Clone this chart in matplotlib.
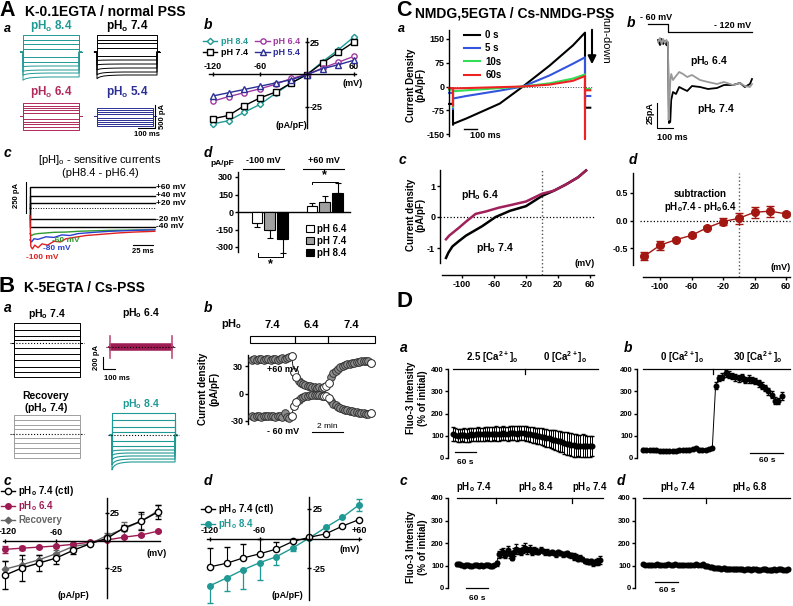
import numpy as np
import matplotlib
matplotlib.use("Agg")
import matplotlib.pyplot as plt
from matplotlib.patches import Rectangle, Patch, FancyArrowPatch
from matplotlib.lines import Line2D

plt.rcParams.update({
    'font.family': ['Liberation Sans', 'DejaVu Sans'],
    'font.weight': 'bold',
    'mathtext.default': 'regular',
    'axes.unicode_minus': False,
    'axes.linewidth': 1.0,
    'xtick.major.width': 1.0, 'ytick.major.width': 1.0,
    'xtick.major.size': 2.5, 'ytick.major.size': 2.5,
    'xtick.labelsize': 6, 'ytick.labelsize': 6,
    'xtick.major.pad': 1, 'ytick.major.pad': 1,
})

TEAL = '#1f9994'; ROSE = '#b02a5c'; NAVY = '#2b2f95'; PURPLE = '#a03aa0'
WINE = '#9c1b52'; DGREY = '#666666'; LGREY = '#a0a0a0'; DRED = '#a31712'

# ================= DATA =================
# A a : step levels (pA) of current traces
AA_84 = [370, 260, 174, 65, -109, -217, -304, -391, -457, -543]
AA_84_DECAY = [0, 0, 0, 0, 0, 0, -15, -30, -50, -70]
AA_74 = [370, 260, 195, 87, -87, -174, -261, -348, -435, -500]
AA_74_DECAY = [0, 0, 0, 0, 0, -10, -20, -40, -60, -80]
AA_64 = [282, 228, 174, 120, 65, -65, -120, -174, -239, -304]
AA_54 = [174, 130, 87, 43, -43, -87, -130, -174, -217]
DECAY_T = [0, 8, 20, 40, 70, 110, 160]
DECAY_SHAPE = [1.0, 0.72, 0.48, 0.28, 0.14, 0.05, 0.0]

# A b : I-V
V_IV = [-120, -100, -80, -60, -40, -20, 0, 20, 40, 60]
AB_PH84 = [-38, -35.5, -29, -23, -14.5, -6.5, 0, 10, 19, 29]
AB_PH74 = [-34, -31.5, -24, -18, -13.5, -6.5, 0, 9, 17, 25]
AB_PH64 = [-20.5, -17, -14, -11, -7.5, -3, 0, 5, 9.5, 14]
AB_PH54 = [-16.5, -14, -11.5, -9, -6.5, -4, 0, 4.5, 7.5, 11]

# A c : pH-sensitive currents
AC_LEVELS = [164, 94, 39, -86, -148]
AC_LABELS = ['+60 mV', '+40 mV', '+20 mV', '-20 mV', '-40 mV']
AC_END = 156
AC_G_T = [0, 2, 5, 10, 20, 30, 45, 60, 80, 100, 130, 156]
AC_G = [-200, -215, -205, -200, -195, -190, -188, -182, -178, -175, -172, -170]
AC_B_T = [0, 2, 5, 10, 20, 30, 40, 50, 60, 80, 100, 130, 156]
AC_B = [-250, -265, -240, -245, -225, -230, -210, -215, -200, -190, -182, -175, -170]
AC_R_T = [0, 1, 3, 6, 10, 15, 22, 30, 38, 45, 55, 70, 90, 110, 130, 156]
AC_R = [-60, -300, -320, -290, -310, -280, -290, -260, -265, -240, -230, -215, -205, -195, -188, -182]

# A d : bars
AD_POS = [0, 1, 2, 4.3, 5.3, 6.3]
AD_VAL = [-90, -150, -235, 50, 88, 162]
AD_ERR = [38, 75, 115, 25, 45, 85]
AD_FACE = ['white', '#a0a0a0', 'black', 'white', '#a0a0a0', 'black']
AD_LEG = ['pH 6.4', 'pH 7.4', 'pH 8.4']

# B a : step levels (pA)
BA_74 = [308, 200, 108, 46, -77, -169, -262, -370, -446, -523]
BA_64 = [45, 37, 29, 21, 13, 5, -5, -13, -21, -29, -37, -45]
BA_64_SPIKE = 170
BA_REC = [292, 215, 138, 77, -62, -138, -215, -292, -370]
BA_84 = [338, 231, 123, 46, -92, -169, -231, -277, -323, -370, -415]
BA_84_DECAY = [0, 0, 0, 0, 0, 0, -20, -40, -60, -90, -120]

# B b : time course (pA/pF), sampled every 0.15 min
BB_DT = 0.15
BB_P60 = [37, 38, 37, 38, 38, 37, 38, 38, 37, 38, 38, 37, 38, 39, 38, 39, 40, 41,
          23, 18, 14, 12, 10, 9, 8, 8, 7, 7, 6, 7, 6, 7, 8,
          12, 18, 22, 25, 27, 29, 30, 31, 32, 32, 33, 33, 34, 34, 35, 35, 36, 36, 33]
BB_M60 = [-25, -26, -25, -25, -26, -25, -25, -24, -25, -25, -26, -25, -24, -26, -21, -26, -27, -25,
          -14, -9, -7, -5, -4, -3, -3, -2, -2, -2, -2, -2, -3, -3, -3,
          -5, -8, -11, -13, -15, -16, -17, -18, -18, -19, -19, -20, -20, -21, -21, -21, -22, -22, -21]
BB_WHITE = [17, 18, 19, 31, 32, 33, 51]
BB_SEG_EDGES = [-0.13, 2.77, 4.9, 7.94]
BB_SEG_LABELS = ['7.4', '6.4', '7.4']

# B c
BC_CTL = [-31.5, -25, -20.5, -16, -9, -3, 2, 11.5, 17.5, 26]
BC_CTL_ERR = [13, 12, 7, 5, 3, 1, 1, 3, 8, 6]
BC_64 = [-8, -7, -6, -5, -3.5, -1.5, 0.5, 3, 5, 8.5]
BC_64_ERR = [3, 2, 1, 1, 1, 1, 1, 1, 1, 1]
BC_REC = [-26, -22, -17.5, -12, -5.5, -3, 4.5, 10.5, 17.5, 27]
BC_REC_ERR = [7, 5, 4, 3, 2, 1, 2, 6, 7, 5]

# B d
BD_CTL = [-24, -21, -16.5, -13, -9, -2.5, 1, 4, 10.5, 16]
BD_CTL_ERR_UP = [16, 14, 11.5, 13, 6, 1.5, 0, 0, 0, 0]
BD_84 = [-40, -33.5, -26.5, -20.5, -15.5, -8, 0.5, 9.5, 18, 28.5]
BD_84_ERR_DN = [15, 11, 16, 15, 7, 3, 0, 0, 0, 5]
BD_84_ERR_UP = [0, 0, 0, 0, 0, 0, 0, 0, 0, 5]

# C a : ramp currents (pA/pF)
CA_T = [0, 101, 354, 530, 732, 909, 1000]
CA_TRACES = {
    '0 s': [-118, -101, -54, 0, 66, 130, 170],
    '5 s': [-38, -30, -13, 0, 35, 72, 92],
    '10s': [-15, -12, -5, 0, 10, 25, 38],
    '60s': [-6, -5, -2, 0, 6, 18, 33],
}
CA_COLORS = ['black', '#3355dd', '#33dd55', '#ee2222']
CA_PRE = [-55, -20, -10, -5]
CA_START_SPIKE = [-120, -70, -65, -60]
CA_END_SPIKE = [-67, -40, -15, -165]
CA_POST = [-67, -30, -8, -12]

# C b
CB_PROT_T = [-125, 0, 0, 525]
CB_PROT_V = [-60, -60, -120, -120]
CB_T74 = [-62, -50, -40, -30, -20, -10, -3, 0, 6, 14, 20, 31, 50, 70, 94, 120, 150, 200, 250, 306, 350, 406, 450, 480, 512, 525]
CB_I74 = [2, -3, 3, -2, 1, -3, 0, -8, -81, -80, -58, -50, -52, -45, -47, -49, -44, -45, -47, -46, -43, -43, -41, -45, -42, -37]
CB_T64 = [-62, -50, -40, -30, -20, -10, -3, 0, 4, 9, 14, 20, 31, 50, 70, 94, 120, 150, 200, 250, 306, 350, 406, 450, 480, 512, 525]
CB_I64 = [0, 4, -2, 3, -1, 2, 0, -6, -78, -60, -40, -32, -38, -34, -30, -32, -35, -33, -38, -40, -42, -40, -43, -41, -44, -45, -42]

# C c
CC_64_V = [-120, -116, -104, -95, -83, -70, -54, -40, -20, 0, 15, 30, 45, 55]
CC_64 = [-0.72, -0.6, -0.35, -0.15, 0.1, 0.18, 0.3, 0.38, 0.5, 0.75, 0.85, 1.05, 1.28, 1.5]
CC_74_V = [-120, -117, -112, -104, -95, -83, -75, -58, -40, -20, 0, 15, 30, 45, 55]
CC_74 = [-1.32, -1.15, -0.95, -0.78, -0.6, -0.42, -0.3, 0.0, 0.2, 0.35, 0.68, 0.85, 1.05, 1.28, 1.5]

# C d
CD_SUB = [-0.65, -0.45, -0.35, -0.27, -0.13, -0.02, 0.04, 0.15, 0.17, 0.12]
CD_ERR = [0.07, 0.08, 0.03, 0.03, 0.03, 0.06, 0.1, 0.1, 0.1, 0.03]

# D : Fluo-3 intensity (% of initial)
DA_DT = 6.5
DA = [108, 105, 100, 102, 104, 103, 100, 105, 106, 104, 106, 108, 107, 106, 108, 110, 108, 107, 109, 110,
      108, 110, 112, 110, 108, 111, 113, 112, 110, 112, 114, 112, 110, 108, 106, 104, 102, 100, 98, 96,
      93, 90, 88, 85, 82, 80, 78, 75, 72, 68, 65, 62, 60, 58, 56, 55, 54, 55, 54, 53, 52, 53]
DA_ERR = [30, 28, 30, 29, 28, 30, 29, 31, 30, 29, 30, 31, 30, 29, 30, 31, 30, 31, 30, 32,
          31, 30, 32, 31, 30, 32, 31, 33, 32, 31, 32, 33, 32, 33, 34, 35, 34, 36, 37, 38,
          38, 40, 40, 42, 43, 44, 45, 46, 47, 48, 50, 50, 52, 52, 50, 48, 50, 52, 50, 48, 46, 45]
DA_SWITCH = 206
DA_BAR = [0, 414]
DB_DT = 6
DB = [38, 37, 36, 35, 34, 33, 33, 32, 33, 32, 33, 34, 35, 36, 38, 40, 45, 38, 35, 36, 40, 45,
      325, 358, 365, 380, 375, 368, 362, 358, 362, 352, 355, 350, 345, 335, 325, 315, 300, 285, 258, 255, 280]
DB_ERR = [5] * 22 + [15, 14, 15, 14, 16, 15, 14, 16, 15, 14, 16, 15, 14, 15, 16, 15, 16, 15, 16, 14, 18]
DB_SWITCH = 127
DB_BAR = [0, 267]
DC_DT = 6
DC = [105, 108, 103, 100, 104, 102, 98, 100, 103, 101, 99, 102, 100, 104, 103, 100, 97, 102,
      110, 150, 155, 160, 145, 168, 150, 135, 160, 175, 165, 158, 172, 180, 168, 175, 160, 170,
      165, 160, 170, 165, 158, 162, 155, 160, 155, 150, 158, 155, 150, 152, 155, 148,
      145, 140, 138, 130, 135, 128, 120, 118, 115, 118, 112, 115, 118, 125]
DC_ERR = [6] * 18 + [10, 15, 18, 20, 12, 18, 15, 10, 18, 22, 15, 12, 18, 20, 15, 15, 12, 14,
                     12, 10, 12, 10, 10, 12, 10, 10, 9, 10, 10, 9, 10, 10, 9, 8,
                     12, 14, 12, 12, 10, 10, 10, 10, 10, 10, 12, 12, 14, 18]
DC_SWITCH = [106, 313]
DC_BAR = [0, 398]
DD_DT = 6
DD = [105, 104, 103, 104, 102, 103, 105, 104, 102, 103, 104, 105, 103, 104, 106, 104, 102, 103,
      104, 103, 102, 103, 104, 105, 103, 104, 105,
      100, 97, 95, 92, 90, 88, 87, 86, 88, 85, 84, 86, 85, 83, 84, 85, 83, 82, 84, 83, 82, 84,
      83, 81, 82, 83, 84, 82, 80, 81, 83, 82, 84, 83, 82, 81, 83]
DD_ERR = [4] * 27 + [8] * 37
DD_SWITCH = 164
DD_BAR = [0, 384]

# ================= FIGURE =================
W, H = 793, 606
fig = plt.figure(figsize=(W / 100, H / 100), dpi=100)


def fx(x):
    return x / W


def fy(y):
    return 1 - y / H


def T(x, y, s, size=7, ha='center', va='center', **kw):
    return fig.text(fx(x), fy(y), s, size=size, ha=ha, va=va, **kw)


def make_ax(box, xcal, ycal):
    l, t, r, b = box
    ax = fig.add_axes([fx(l), fy(b), (r - l) / W, (b - t) / H])
    sx = (xcal[3] - xcal[1]) / (xcal[2] - xcal[0])
    sy = (ycal[3] - ycal[1]) / (ycal[2] - ycal[0])
    ax.set_xlim(xcal[0] + (l - xcal[1]) / sx, xcal[0] + (r - xcal[1]) / sx)
    ax.set_ylim(ycal[0] + (b - ycal[1]) / sy, ycal[0] + (t - ycal[1]) / sy)
    ax.patch.set_visible(False)
    for s in ax.spines.values():
        s.set_visible(False)
    ax.set_xticks([])
    ax.set_yticks([])
    return ax


def iv_axes(ax, xb, yb, xt, yt, xtl=None, ytl=None):
    for side in ('top', 'right'):
        ax.spines[side].set_visible(True)
        ax.spines[side].set_position(('data', 0))
    ax.spines['top'].set_bounds(*xb)
    ax.spines['right'].set_bounds(*yb)
    ax.xaxis.tick_top()
    ax.yaxis.tick_right()
    ax.set_xticks(xt)
    ax.set_yticks(yt)
    if xtl:
        ax.set_xticklabels(xtl)
    if ytl:
        ax.set_yticklabels(ytl)
    ax.tick_params(length=2.5, direction='inout', labelsize=6.5, pad=1)


def steps(ax, levels, Tend, color, decay=None, lw=0.7, pre=15, post=15):
    for i, L in enumerate(levels):
        d = decay[i] if decay else 0
        t = [-pre, 0] + DECAY_T + [Tend, Tend, Tend + post]
        v = [0, 0] + [L + d * s for s in DECAY_SHAPE] + [L, 0, 0]
        ax.plot(t, v, color=color, lw=lw, clip_on=False)


def italic(x, y, s, size=10):
    T(x, y, s, size=size, style='italic', ha='left')


# ---------- Section titles
T(-1, 10, 'A', size=15.5, ha='left')
T(25, 12, 'K-0.1EGTA / normal PSS', size=10, ha='left')
T(-1, 287, 'B', size=16, ha='left')
T(24, 288, 'K-5EGTA / Cs-PSS', size=10, ha='left')
T(396, 10, 'C', size=15.5, ha='left')
T(415, 13, 'NMDG,5EGTA / Cs-NMDG-PSS', size=10, ha='left')
T(397, 302, 'D', size=16, ha='left')

# ---------- A a
italic(4, 29, 'a', 9)
ax = make_ax((15, 30, 90, 85), (0, 23, 100, 40), (0, 52, 500, 29))
steps(ax, AA_84, 330, TEAL, AA_84_DECAY)
ax = make_ax((90, 30, 165, 85), (0, 97, 100, 114), (0, 52, 500, 29))
steps(ax, AA_74, 353, 'black', AA_74_DECAY)
ax = make_ax((15, 98, 90, 135), (0, 23, 100, 40), (0, 116, 500, 93))
steps(ax, AA_64, 330, ROSE)
ax = make_ax((90, 98, 170, 140), (0, 97, 100, 114), (0, 116, 500, 93))
steps(ax, AA_54, 330, NAVY)
ax.plot([341, 341, 241], [239, -261, -261], color='black', lw=0.8, clip_on=False)
T(51, 26, r'pH$_o$ 8.4', size=8.5, color=TEAL)
T(127, 26, r'pH$_o$ 7.4', size=8.5)
T(51, 92, r'pH$_o$ 6.4', size=8.5, color=ROSE)
T(127, 92, r'pH$_o$ 5.4', size=8.5, color=NAVY)
T(162, 117, '500 pA', size=5.5, rotation=90)
T(147, 134, '100 ms', size=5.5)

# ---------- A b
italic(204, 25, 'b')
ax = make_ax((205, 35, 362, 130), (-120, 213, 60, 354), (25, 42, -25, 107))
iv_axes(ax, (-125, 62), (-41, 28), [-120, -60, 60], [25, -25])
for vals, c, m, lab in [(AB_PH84, TEAL, 'D', 'pH 8.4'), (AB_PH74, 'black', 's', 'pH 7.4'),
                        (AB_PH64, PURPLE, 'o', 'pH 6.4'), (AB_PH54, NAVY, '^', 'pH 5.4')]:
    ax.plot(V_IV, vals, color=c, marker=m, ms=3.8 if m != 'D' else 3.2, mfc='white', mec=c,
            mew=1.0, lw=1.0, label=lab, clip_on=False)
h, l = ax.get_legend_handles_labels()
ax.legend(h, l, ncol=2, loc='upper left',
          bbox_to_anchor=(fx(203), fy(37)), bbox_transform=fig.transFigure, frameon=False,
          fontsize=6.5, handlelength=1.6, handletextpad=0.4, columnspacing=0.8, labelspacing=0.2,
          borderpad=0, borderaxespad=0)
leg = ax.get_legend()
for txt, c in zip(leg.get_texts(), [TEAL, 'black', PURPLE, NAVY]):
    txt.set_color(c)
T(353, 83, '(mV)', size=6.5)
T(291, 125, '(pA/pF)', size=6.5)

# ---------- A c
italic(4, 153, 'c')
T(100, 160, r'[pH]$_o$ - sensitive currents', size=8, weight='normal')
T(100, 173, '(pH8.4 - pH6.4)', size=8, weight='normal')
ax = make_ax((15, 175, 175, 262), (0, 30, 25, 50), (0, 208, 250, 176))
ax.plot([0, AC_END], [0, 0], ls=':', color='black', lw=0.7)
for L, lab in zip(AC_LEVELS, AC_LABELS):
    ax.plot([0, 0, AC_END], [0, L, L], color='black', lw=1.0)
    ax.text(AC_END + 2, L, lab, size=6, va='center', ha='left')
ax.plot(AC_G_T, AC_G, color='#2e9a2e', lw=1.0)
ax.plot(AC_B_T, AC_B, color='#2a40d0', lw=1.0)
ax.plot(AC_R_T, AC_R, color='#e02020', lw=1.0)
ax.plot([-5, -5], [203, -39], color='black', lw=0.8, clip_on=False)
ax.plot([129, 154], [-289, -289], color='black', lw=0.8, clip_on=False)
T(17, 196, '250 pA', size=5.5, rotation=90)
T(143, 251, '25 ms', size=5.5)
T(66, 240, '-60 mV', size=6, color='#2e9a2e')
T(57, 248, '-80 mV', size=6, color='#2a40d0')
T(42, 258, '-100 mV', size=6, color='#e02020')

# ---------- A d
italic(204, 153, 'd')
ax = make_ax((238, 170, 350, 258), (0, 257, 6.3, 337.5), (300, 177, -300, 247))
ax.spines['left'].set_visible(True)
ax.spines['left'].set_bounds(-340, 340)
ax.spines['bottom'].set_visible(True)
ax.spines['bottom'].set_position(('data', 0))
ax.set_yticks([300, 150, 0, -150, -300])
ax.tick_params(axis='y', labelsize=6.5, length=2.5)
for p, v, e, fc in zip(AD_POS, AD_VAL, AD_ERR, AD_FACE):
    ax.bar(p, v, width=0.85, color=fc, edgecolor='black', lw=0.8, zorder=3)
    ax.errorbar(p, v, yerr=[[e if v < 0 else 0], [e if v > 0 else 0]], color='black',
                capsize=2.5, lw=0.8, capthick=0.8, zorder=2, clip_on=False)
ax.plot([-1.1, 2.1], [369, 369], color='black', lw=0.8, clip_on=False)
ax.plot([3.6, 6.8], [369, 369], color='black', lw=0.8, clip_on=False)
ax.text(0.5, 400, '-100 mV', size=6.5, ha='center', va='bottom')
ax.text(5.2, 400, '+60 mV', size=6.5, ha='center', va='bottom')
ax.plot([4.3, 4.3, 6.3, 6.3], [240, 257, 257, 240], color='black', lw=0.7, clip_on=False)
ax.text(5.3, 262, '*', size=9, ha='center', va='bottom')
ax.plot([0.1, 0.1, 2.0, 2.0], [-355, -386, -386, -355], color='black', lw=0.7, clip_on=False)
ax.text(1.05, -400, '*', size=9, ha='center', va='top')
ax.legend(handles=[Patch(facecolor=fc, edgecolor='black', lw=0.8) for fc in AD_FACE[:3]],
          labels=AD_LEG, loc='upper left', bbox_to_anchor=(fx(306), fy(224)),
          bbox_transform=fig.transFigure, frameon=False, fontsize=7, handlelength=0.8,
          handleheight=0.8, labelspacing=0.2, handletextpad=0.3, borderpad=0, borderaxespad=0)
T(222, 164, 'pA/pF', size=6)

# ---------- B a
italic(4, 308, 'a')
ax = make_ax((8, 318, 88, 382), (0, 14, 100, 26), (0, 343, 200, 330))
ax.plot([-30, 580], [0, 0], ls=':', color='black', lw=0.8)
steps(ax, BA_74, 550, 'black')
ax = make_ax((100, 330, 180, 365), (0, 110, 100, 122), (0, 347, 200, 334))
for L in BA_64:
    ax.plot([-10, 0, 0, 517, 517, 527], [0, 0, L, L, 0, 0], color=WINE, lw=1.1)
ax.plot([0, 0], [-BA_64_SPIKE, BA_64_SPIKE], color='#c0507a', lw=1.2)
ax.plot([517, 517], [-BA_64_SPIKE, BA_64_SPIKE], color='#c0507a', lw=1.2)
ax.plot([-30, 550], [0, 0], ls=':', color='black', lw=0.8)
ax.plot([-58, -58, 42], [-154, -338, -338], color='black', lw=0.8, clip_on=False)
ax = make_ax((8, 410, 88, 465), (0, 14, 100, 26), (0, 434, 200, 421))
steps(ax, BA_REC, 550, LGREY)
ax.plot([-30, 580], [0, 0], ls=':', color='black', lw=0.8)
ax = make_ax((100, 408, 185, 475), (0, 112, 100, 124), (0, 435, 200, 422))
steps(ax, BA_84, 525, TEAL, BA_84_DECAY, lw=0.8)
ax.plot([-30, 555], [0, 0], ls=':', color='black', lw=0.8)
T(47, 314, r'pH$_o$ 7.4', size=7.5)
T(141, 313, r'pH$_o$ 6.4', size=7.5)
T(96, 357, '200 pA', size=5.5, rotation=90)
T(117, 378, '100 ms', size=5.5)
T(46, 396, 'Recovery', size=7.5)
T(46, 408, r'(pH$_o$ 7.4)', size=7.5)
T(141, 404, r'pH$_o$ 8.4', size=7.5, color=TEAL)

# ---------- B b
italic(204, 308, 'b')
ax = make_ax((248, 350, 378, 436), (0, 252, 2, 283), (30, 366, -30, 421))
ax.spines['left'].set_visible(True)
ax.spines['left'].set_bounds(-33, 42)
ax.set_yticks([30, 0, -30])
ax.tick_params(axis='y', labelsize=6.5, length=2.5)
tb = np.arange(len(BB_P60)) * BB_DT
for vals in (BB_P60, BB_M60):
    vals = np.array(vals, dtype=float)
    ax.plot(tb, vals, color='black', lw=0.6, zorder=2)
    ax.plot(tb, vals, 'o', ms=5.5, mfc='#8c8c8c', mec='#2a2a2a', mew=0.6, zorder=3)
    ax.plot(tb[BB_WHITE], vals[BB_WHITE], 'o', ms=5.5, mfc='white', mec='#2a2a2a', mew=0.6, zorder=4)
for i, lab in enumerate(BB_SEG_LABELS):
    a, b = BB_SEG_EDGES[i], BB_SEG_EDGES[i + 1]
    ax.add_patch(Rectangle((a, 55.6), b - a, 7.4, fill=False, lw=0.8, clip_on=False))
    ax.text((a + b) / 2, 75, lab, size=8, ha='center', va='center')
ax.plot([3.9, 5.9], [-42.5, -42.5], color='black', lw=0.8, clip_on=False)
T(327, 427, '2 min', size=6, weight='normal')
T(232, 324, r'pH$_o$', size=8)
T(283, 370, '+60 mV', size=6.5)
T(283, 432, '- 60 mV', size=6.5)
T(203, 389, 'Current density', size=7, rotation=90)
T(214, 389, '(pA/pF)', size=7, rotation=90)

# ---------- B c
italic(4, 481, 'c')
ax = make_ax((0, 495, 165, 600), (-120, 5, 60, 158), (25, 513, -25, 568))
iv_axes(ax, (-122, 62), (-52, 39), [-120, -60], [25, -25], xtl=['', '-60'])
ax.errorbar(V_IV, BC_REC, yerr=BC_REC_ERR, color=DGREY, marker='D', ms=3.3, lw=1.0,
            capsize=2, elinewidth=0.8, clip_on=False)
ax.errorbar(V_IV, BC_64, yerr=BC_64_ERR, color=WINE, marker='o', ms=4, lw=1.0,
            capsize=2, elinewidth=0.8, clip_on=False)
ax.errorbar(V_IV, BC_CTL, yerr=BC_CTL_ERR, color='black', marker='o', ms=4.5, mfc='white',
            lw=1.0, capsize=2, elinewidth=0.8, clip_on=False)
handles = [Line2D([], [], color='black', marker='o', mfc='white', ms=4.5, lw=1.0),
           Line2D([], [], color=WINE, marker='o', ms=4, lw=1.0),
           Line2D([], [], color=DGREY, marker='D', ms=3.3, lw=1.0)]
leg = ax.legend(handles, [r'pH$_o$ 7.4 (ctl)', r'pH$_o$ 6.4', 'Recovery'], loc='upper left',
                bbox_to_anchor=(fx(1), fy(484)), bbox_transform=fig.transFigure, frameon=False,
                fontsize=7, handlelength=1.4, handletextpad=0.4, labelspacing=0.15,
                borderpad=0, borderaxespad=0)
for txt, c in zip(leg.get_texts(), ['black', WINE, DGREY]):
    txt.set_color(c)
T(8, 531, '-120', size=6.5)
T(157, 554, '(mV)', size=6.5)
T(73, 595, '(pA/pF)', size=6.5)

# ---------- B d
italic(204, 481, 'd')
ax = make_ax((200, 495, 365, 600), (-120, 210, 60, 359), (25, 509, -25, 568))
iv_axes(ax, (-124, 62), (-52, 35), [-120, -60, 60], [25, -25], xtl=['-120', '-60', '+60'])
ax.errorbar(V_IV, BD_84, yerr=[BD_84_ERR_DN, BD_84_ERR_UP], color=TEAL, marker='o', ms=4,
            lw=1.0, capsize=2.5, elinewidth=0.9, clip_on=False)
ax.errorbar(V_IV, BD_CTL, yerr=[[0] * 10, BD_CTL_ERR_UP], color='black', marker='o', ms=4.5,
            mfc='white', lw=0.9, capsize=2.5, elinewidth=0.8, clip_on=False)
handles = [Line2D([], [], color='black', marker='o', mfc='white', ms=4.5, lw=1.0),
           Line2D([], [], color=TEAL, marker='o', ms=4, lw=1.0)]
leg = ax.legend(handles, [r'pH$_o$ 7.4 (ctl)', r'pH$_o$ 8.4'], loc='upper left',
                bbox_to_anchor=(fx(201), fy(502)), bbox_transform=fig.transFigure, frameon=False,
                fontsize=7, handlelength=1.4, handletextpad=0.4, labelspacing=0.15,
                borderpad=0, borderaxespad=0)
for txt, c in zip(leg.get_texts(), ['black', TEAL]):
    txt.set_color(c)
T(350, 549, '(mV)', size=6.5)
T(287, 595, '(pA/pF)', size=6.5)

# ---------- C a
italic(398, 29, 'a', 9)
ax = make_ax((449, 25, 600, 140), (0, 453, 1000, 585), (150, 39, -150, 134))
ax.spines['left'].set_visible(True)
ax.spines['left'].set_bounds(-155, 178)
ax.set_yticks([150, 75, 0, -75, -150])
ax.tick_params(axis='y', labelsize=6.5, length=2.5)
ax.plot([-30, 1060], [0, 0], ls=':', color='#444444', lw=0.7, clip_on=False)
for k, (lab, vals) in enumerate(CA_TRACES.items()):
    c = CA_COLORS[k]
    t = [-30, 0, 0] + CA_T + [CA_T[-1], CA_T[-1], 1040]
    v = [CA_PRE[k], CA_PRE[k], CA_START_SPIKE[k]] + vals + [CA_END_SPIKE[k], CA_POST[k], CA_POST[k]]
    ax.plot(t, v, color=c, lw=1.5, clip_on=False, label=lab)
ax.legend(loc='upper left', bbox_to_anchor=(fx(464), fy(30)), bbox_transform=fig.transFigure,
          frameon=False, fontsize=7, handlelength=1.6, handletextpad=0.6, labelspacing=0.35,
          borderpad=0, borderaxespad=0)
ax.plot([80, 180], [-133, -133], color='black', lw=1.0, clip_on=False)
T(485, 135, '100 ms', size=6.5)
T(411, 85, 'Current Density', size=7, rotation=90)
T(421, 85, '(pA/pF)', size=7, rotation=90)
fig.add_artist(FancyArrowPatch((fx(592), fy(27)), (fx(592), fy(67)), transform=fig.transFigure,
                               arrowstyle='-|>', mutation_scale=12, lw=1.5, color='black'))
T(605, 40, 'run-down', size=8, rotation=-90, weight='normal')

# ---------- C b
italic(627, 23, 'b')
ax = make_ax((645, 12, 760, 40), (0, 668, 100, 684), (-60, 24, -120, 32))
ax.plot(CB_PROT_T, CB_PROT_V, color='black', lw=0.9)
T(656, 17, '- 60 mV', size=6.5)
T(733, 25, '- 120 mV', size=6.5)
ax = make_ax((640, 35, 760, 145), (0, 668, 100, 684), (0, 42, -25, 67))
ax.plot(CB_T64, CB_I64, color='#999999', lw=1.3)
ax.plot(CB_T74, CB_I74, color='black', lw=1.3, zorder=1)
ax.plot([-69, -69, 31], [-61, -86, -86], color='black', lw=0.8, clip_on=False)
T(650, 113, '25pA', size=6.5, rotation=90)
T(672, 138, '100 ms', size=6.5)
T(709, 61, r'pH$_o$ 6.4', size=7.5)
T(716, 109, r'pH$_o$ 7.4', size=7.5)

# ---------- C c
italic(399, 160, 'c')
ax = make_ax((440, 165, 600, 282), (-100, 462, 60, 590), (1, 186, -1, 248))
ax.spines['left'].set_visible(True)
ax.spines['left'].set_bounds(-1.48, 1.52)
ax.spines['bottom'].set_visible(True)
ax.spines['bottom'].set_position(('data', -1.87))
ax.spines['bottom'].set_bounds(-125, 65)
ax.set_xticks([-100, -60, -20, 20, 60])
ax.set_yticks([1, 0, -1])
ax.tick_params(labelsize=6.5, length=2.5)
ax.plot([-128, 65], [0, 0], ls=':', color='black', lw=0.9)
ax.plot([0, 0], [-1.87, 1.55], ls=':', color='#555555', lw=1.0)
ax.plot(CC_74_V, CC_74, color='black', lw=1.8)
ax.plot(CC_64_V, CC_64, color='#a0205a', lw=1.8)
T(480, 195, r'pH$_o$ 6.4', size=7.5)
T(495, 248, r'pH$_o$ 7.4', size=7.5)
T(585, 263, '(mV)', size=6.5)
T(411, 215, 'Current density', size=7, rotation=90)
T(421, 215, '(pA/pF)', size=7, rotation=90)

# ---------- C d
italic(629, 160, 'd')
ax = make_ax((633, 165, 795, 282), (-100, 660, 60, 786), (0.5, 193, -0.5, 248))
ax.spines['left'].set_visible(True)
ax.spines['left'].set_bounds(-0.81, 0.86)
ax.spines['bottom'].set_visible(True)
ax.spines['bottom'].set_position(('data', -1.03))
ax.spines['bottom'].set_bounds(-122, 65)
ax.set_xticks([-100, -60, -20, 20, 60])
ax.set_yticks([0.5, 0.0, -0.5])
ax.set_yticklabels(['0.5', '0.0', '-0.5'])
ax.tick_params(labelsize=6.5, length=2.5)
ax.plot([-125, 65], [0, 0], ls=':', color='black', lw=0.9)
ax.plot([0, 0], [-1.03, 0.86], ls=':', color='#555555', lw=1.0)
ax.errorbar(V_IV, CD_SUB, yerr=CD_ERR, color=DRED, marker='o', ms=5.5, lw=1.0,
            capsize=3, elinewidth=1.0, capthick=1.0, clip_on=False)
T(700, 194, 'subtraction', size=7)
T(700, 207, r'pH$_o$7.4 - pH$_o$6.4', size=7)
T(781, 268, '(mV)', size=6.5)


# ---------- D
def fluo_axes(box, xcal, ycal, t, vals, err, switches, bar, labels, scale, yl):
    ax = make_ax(box, xcal, ycal)
    ax.spines['left'].set_visible(True)
    ax.spines['left'].set_bounds(0, 400)
    ax.set_yticks([0, 100, 200, 300, 400])
    ax.tick_params(axis='y', labelsize=5.5, length=2, pad=1)
    ax.errorbar(t, vals, yerr=err, fmt='-o', color='black', ms=3.3, lw=0.7,
                elinewidth=0.7, capsize=1.5, clip_on=False)
    ax.plot(bar, [400, 400], color='black', lw=0.9, clip_on=False)
    for s in switches:
        ax.plot([s, s], [400, 378], color='black', lw=0.9, clip_on=False)
    ax.plot(scale[0], [scale[1], scale[1]], color='black', lw=0.9, clip_on=False)
    for (x, y, s) in labels:
        T(x, y, s, size=7)
    if yl:
        T(yl[0], yl[1], 'Fluo-3 Intensity', size=7, rotation=90)
        T(yl[0] + 12, yl[1], '(% of initial)', size=7, rotation=90)
    return ax


italic(400, 348, 'a')
fluo_axes((448, 365, 600, 462), (0, 453, 60, 474), (400, 369, 0, 458),
          np.arange(len(DA)) * DA_DT, DA, DA_ERR, [DA_SWITCH], DA_BAR,
          [(492, 357, r'2.5 [Ca$^{2+}$]$_o$'), (565, 357, r'0 [Ca$^{2+}$]$_o$')],
          ([6, 66], 25), (411, 398))
T(465, 462, '60 s', size=6)
italic(624, 348, 'b')
fluo_axes((637, 365, 793, 462), (0, 643, 60, 676), (400, 369, 0, 458),
          np.arange(len(DB)) * DB_DT, DB, DB_ERR, [DB_SWITCH], DB_BAR,
          [(682, 357, r'0 [Ca$^{2+}$]$_o$'), (758, 357, r'30 [Ca$^{2+}$]$_o$')],
          ([195, 255], 22), None)
T(767, 461, '60 s', size=6)
italic(400, 481, 'c')
fluo_axes((448, 494, 605, 600), (0, 457, 60, 479), (400, 498, 0, 588),
          np.arange(len(DC)) * DC_DT, DC, DC_ERR, DC_SWITCH, DC_BAR,
          [(474, 487, r'pH$_o$ 7.4'), (536, 487, r'pH$_o$ 8.4'), (590, 487, r'pH$_o$ 7.4')],
          ([25, 85], -2), (411, 547))
T(477, 598, '60 s', size=6)
italic(617, 481, 'd')
fluo_axes((635, 494, 793, 600), (0, 643, 60, 666), (400, 498, 0, 588),
          np.arange(len(DD)) * DD_DT, DD, DD_ERR, [DD_SWITCH], DD_BAR,
          [(678, 487, r'pH$_o$ 7.4'), (750, 487, r'pH$_o$ 6.8')],
          ([31, 91], 27), None)
T(667, 591, '60 s', size=6)

fig.savefig('out.png', dpi=100)
